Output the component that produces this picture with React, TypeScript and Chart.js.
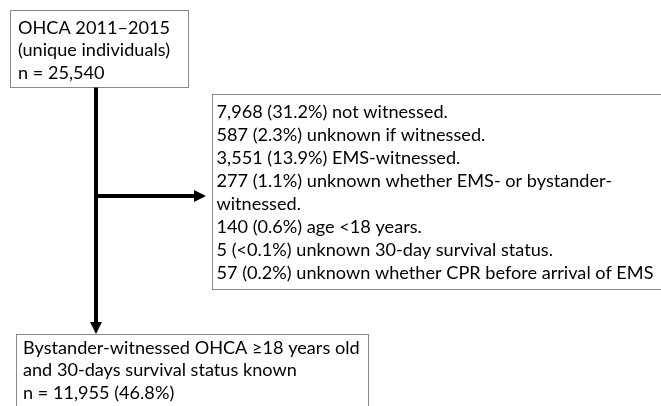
import React, { useEffect, useRef } from "react";
import { Chart, registerables } from "chart.js";

Chart.register(...registerables);

// ---- content (text data) ----
const startBoxLines = ["OHCA 2011–2015", "(unique individuals)", "n = 25,540"];
const exclusionLines = [
  "7,968 (31.2%) not witnessed.",
  "587 (2.3%) unknown if witnessed.",
  "3,551 (13.9%) EMS-witnessed.",
  "277 (1.1%) unknown whether EMS- or bystander-",
  "witnessed.",
  "140 (0.6%) age <18 years.",
  "5 (<0.1%) unknown 30-day survival status.",
  "57 (0.2%) unknown whether CPR before arrival of EMS",
];
const finalBoxLines = [
  "Bystander-witnessed OHCA \u226518 years old",
  "and 30-days survival status known",
  "n = 11,955 (46.8%)",
];

// ---- layout (in scale units: x 0..661, y 0..406 top-down) ----
const W = 661;
const H = 406;
const boxes = [
  { lines: startBoxLines, x0: 10.5, y0: 10.5, x1: 188.5, y1: 87.5, tx: 18, ty: 33.5, lh: 22.5 },
  { lines: exclusionLines, x0: 212.5, y0: 94.5, x1: 675, y1: 289.5, tx: 216.5, ty: 117.5, lh: 23.1 },
  { lines: finalBoxLines, x0: 16.5, y0: 334.5, x1: 368.5, y1: 430, tx: 23, ty: 353.5, lh: 22.5 },
];
const trunkX = 96;
const branchY = 196;
const connectorMain = [
  { x: trunkX, y: 87.5 },
  { x: trunkX, y: 322 },
];
const connectorBranch = [
  { x: trunkX, y: branchY },
  { x: 194, y: branchY },
];
const arrowHeads = [
  { tipX: trunkX, tipY: 334, dir: "down" },
  { tipX: 206, tipY: branchY, dir: "right" },
];
const FONT_FAMILY = "Lato, 'Open Sans', sans-serif";
const FONT_SIZE = 18;
const LONGEST_TARGET = 437; // px width of longest line in reference

const flowPlugin = {
  id: "flow",
  beforeDatasetsDraw(chart: any) {
    const { ctx, scales } = chart;
    const xs = scales.x;
    const ys = scales.y;
    ctx.save();
    ctx.lineWidth = 1;
    ctx.strokeStyle = "#8a8a8a";
    ctx.fillStyle = "#ffffff";
    for (const b of boxes) {
      const x0 = xs.getPixelForValue(b.x0);
      const y0 = ys.getPixelForValue(b.y0);
      const x1 = xs.getPixelForValue(b.x1);
      const y1 = ys.getPixelForValue(b.y1);
      ctx.fillRect(x0, y0, x1 - x0, y1 - y0);
      ctx.strokeRect(x0, y0, x1 - x0, y1 - y0);
    }
    ctx.restore();
  },
  afterDatasetsDraw(chart: any) {
    const { ctx, scales } = chart;
    const xs = scales.x;
    const ys = scales.y;
    ctx.save();
    // arrowheads
    ctx.fillStyle = "#000000";
    for (const a of arrowHeads) {
      const tx = xs.getPixelForValue(a.tipX);
      const ty = ys.getPixelForValue(a.tipY);
      ctx.beginPath();
      if (a.dir === "down") {
        ctx.moveTo(tx, ty);
        ctx.lineTo(tx - 6, ty - 12);
        ctx.lineTo(tx + 6, ty - 12);
      } else {
        ctx.moveTo(tx, ty);
        ctx.lineTo(tx - 12, ty - 6);
        ctx.lineTo(tx - 12, ty + 6);
      }
      ctx.closePath();
      ctx.fill();
    }
    // text
    ctx.font = `${FONT_SIZE}px ${FONT_FAMILY}`;
    ctx.textBaseline = "alphabetic";
    ctx.textAlign = "left";
    ctx.fillStyle = "#000000";
    let longest = 0;
    for (const b of boxes) for (const l of b.lines) longest = Math.max(longest, ctx.measureText(l).width);
    const sx = longest > 0 ? LONGEST_TARGET / longest : 1;
    for (const b of boxes) {
      b.lines.forEach((line: string, i: number) => {
        const px = xs.getPixelForValue(b.tx);
        const py = ys.getPixelForValue(b.ty + i * b.lh);
        ctx.save();
        ctx.translate(px, py);
        ctx.scale(sx, 1);
        ctx.fillText(line, 0, 0);
        ctx.restore();
      });
    }
    ctx.restore();
  },
};

export default function App() {
  const canvasRef = useRef<HTMLCanvasElement | null>(null);

  useEffect(() => {
    document.body.style.margin = "0";
    const canvas = canvasRef.current;
    if (!canvas) return;
    const chart = new Chart(canvas, {
      type: "scatter",
      data: {
        datasets: [
          {
            data: connectorMain,
            showLine: true,
            borderColor: "#000000",
            borderWidth: 4,
            pointRadius: 0,
            borderCapStyle: "butt",
          },
          {
            data: connectorBranch,
            showLine: true,
            borderColor: "#000000",
            borderWidth: 4,
            pointRadius: 0,
            borderCapStyle: "butt",
          },
        ],
      },
      options: {
        animation: false,
        responsive: false,
        maintainAspectRatio: false,
        layout: { padding: 0 },
        plugins: { legend: { display: false }, tooltip: { enabled: false } },
        events: [],
        scales: {
          x: { type: "linear", min: 0, max: W, display: false },
          y: { type: "linear", min: 0, max: H, reverse: true, display: false },
        },
      },
      plugins: [flowPlugin],
    } as any);
    let alive = true;
    if ((document as any).fonts && (document as any).fonts.load) {
      (document as any).fonts.load(`${FONT_SIZE}px Lato`).then(() => {
        if (alive) chart.draw();
      });
    }
    return () => {
      alive = false;
      chart.destroy();
    };
  }, []);

  return (
    <div style={{ width: W, height: H, background: "#ffffff" }}>
      <canvas ref={canvasRef} width={W} height={H} style={{ display: "block", width: W, height: H }} />
    </div>
  );
}
